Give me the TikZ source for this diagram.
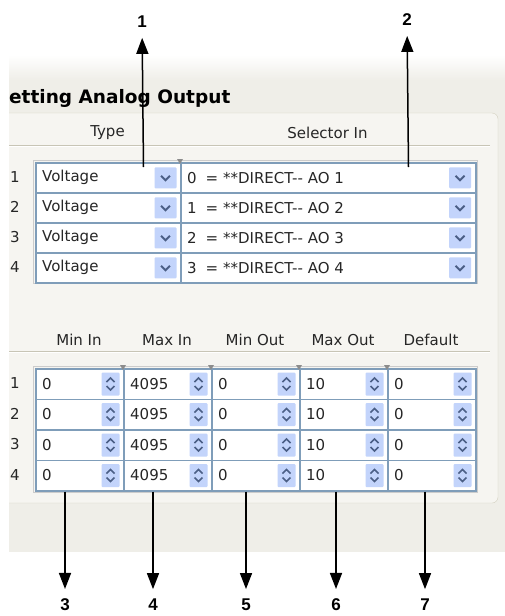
\documentclass[tikz,border=0pt]{standalone}
\usepackage{fontspec}
\setmainfont{DejaVu Sans}
\newfontfamily\calloutfont{Liberation Sans}
\usepackage{tikz}
\usetikzlibrary{arrows.meta,positioning,calc}

\definecolor{panelgray}{HTML}{EFEEE8}
\definecolor{groupfill}{HTML}{F6F5F1}
\definecolor{framegray}{HTML}{D3D0C0}
\definecolor{rulegray}{HTML}{C8C5B6}
\definecolor{cellline}{HTML}{7F9DB9}
\definecolor{btnfill}{HTML}{C3D4FB}
\definecolor{btnglyph}{HTML}{4B5F86}

\tikzset{
  uitext/.style={font=\fontsize{15}{17}\selectfont, text=black!85, inner sep=0pt},
  combo/.style={draw=cellline, fill=white, line width=1.5pt, inner sep=0pt,
                anchor=north west, minimum height=30pt},
  spinbox/.style={combo, minimum width=88pt, minimum height=30.5pt},
  tag/.style={font=\calloutfont\bfseries\fontsize{17}{19}\selectfont,
              inner sep=2pt, outer sep=8pt},
  callout/.style={line width=1.5pt, -{Triangle[length=16pt,width=12pt]}},
  dropbtn/.pic={
    \fill[btnfill, rounded corners=1pt] (-11,-10.5) rectangle (11,10.5);
    \draw[btnglyph, line width=2pt] (-4.5,-2) -- (0,2.5) -- (4.5,-2);
  },
  spinbtn/.pic={
    \fill[btnfill, rounded corners=1pt] (-9,-11.5) rectangle (9,11.5);
    \draw[btnglyph, line width=1.7pt] (-4,-2) -- (0,-6) -- (4,-2);
    \draw[btnglyph, line width=1.7pt] (-4,2) -- (0,6) -- (4,2);
  }
}

\begin{document}
\begin{tikzpicture}[x=1pt,y=-1pt]
  \useasboundingbox (0,0) rectangle (505,616);
  % Window background
  \begin{scope}
    \clip (9,0) rectangle (505,616);
    \shade[top color=white, bottom color=panelgray] (9,55) rectangle (505,80);
    \fill[panelgray] (9,80) rectangle (505,552);
    \draw[framegray, fill=groupfill, rounded corners=6pt] (-20,113) rectangle (498,503);
  \end{scope}
  \node[font=\bfseries\fontsize{18.5}{20}\selectfont, anchor=base west, inner sep=0pt]
    (title) at (9,103) {etting Analog Output};

  % Upper table
  \draw[rulegray] (9,145.5) -- (490,145.5);
  \draw[white] (9,146.5) -- (490,146.5);
  \node[uitext] (hdrtype) at (107.5,133) {Type};
  \node[uitext] (hdrsel) at (327.5,133) {Selector In};
  \draw[black!20] (33,160) rectangle (477,283);
  \foreach \r/\v in {1/0,2/1,3/2,4/3} {
    \node[uitext] (row\r) at (15,{147+30*\r}) {\r};
    \node[combo, minimum width=145pt] (type\r) at (35,{132+30*\r}) {};
    \node[combo, minimum width=295pt] (sel\r) at (180,{132+30*\r}) {};
    \node[uitext, anchor=west] (typetxt\r) at ([xshift=7pt]type\r.west) {Voltage};
    \node[uitext, anchor=west] (seltxt\r) at ([xshift=7pt]sel\r.west)
      {\v\hspace{9pt}= **DIRECT-{}- AO \r};
    \pic at ([xshift=-16pt]type\r.east) {dropbtn};
    \pic at ([xshift=-16.5pt]sel\r.east) {dropbtn};
  }
  \fill[black!45] (177,159) -- (183,159) -- (180,164) -- cycle;

  % Lower table
  \draw[rulegray] (9,351.5) -- (490,351.5);
  \draw[white] (9,352.5) -- (490,352.5);
  \draw[black!20] (33,366) rectangle (477,492);
  \foreach \c/\x/\hdr/\val in {minin/35/Min In/0, maxin/123/Max In/4095,
      minout/211/Min Out/0, maxout/299/Max Out/10, dflt/387/Default/0} {
    \node[uitext] (hdr\c) at ({\x+44},340) {\hdr};
    \foreach \r in {1,...,4} {
      \node[spinbox] (\c\r) at (\x,{368+30.5*(\r-1)}) {};
      \node[uitext, anchor=west] (\c txt\r) at ([xshift=7pt]\c\r.west) {\val};
      \pic at ([xshift=-14pt]\c\r.east) {spinbtn};
    }
  }
  \foreach \x in {123,211,299,387}
    \fill[black!45] (\x-3,365) -- (\x+3,365) -- (\x,370) -- cycle;
  \foreach \r in {1,...,4}
    \node[uitext] (lrow\r) at (15,{383.25+30.5*(\r-1)}) {\r};

  % Callouts
  \coordinate (pin1) at ([xshift=-38pt,yshift=-5pt]type1.north east);
  \coordinate (pin2) at ([xshift=-68pt,yshift=-5pt]sel1.north east);
  \node[tag] (tag1) at (142,22) {1};
  \node[tag] (tag2) at (407,20) {2};
  \draw[callout] (pin1) -- (tag1);
  \draw[callout] (pin2) -- (tag2);
  \foreach \c/\dx/\n in {minin/30/3, maxin/30/4, minout/35/5, maxout/37/6, dflt/38/7} {
    \coordinate (pin\n) at ([xshift=\dx pt]\c4.south west);
    \node[tag] (tag\n) at (pin\n |- 0,605) {\n};
    \draw[callout] (pin\n) -- (tag\n);
  }
\end{tikzpicture}
\end{document}
